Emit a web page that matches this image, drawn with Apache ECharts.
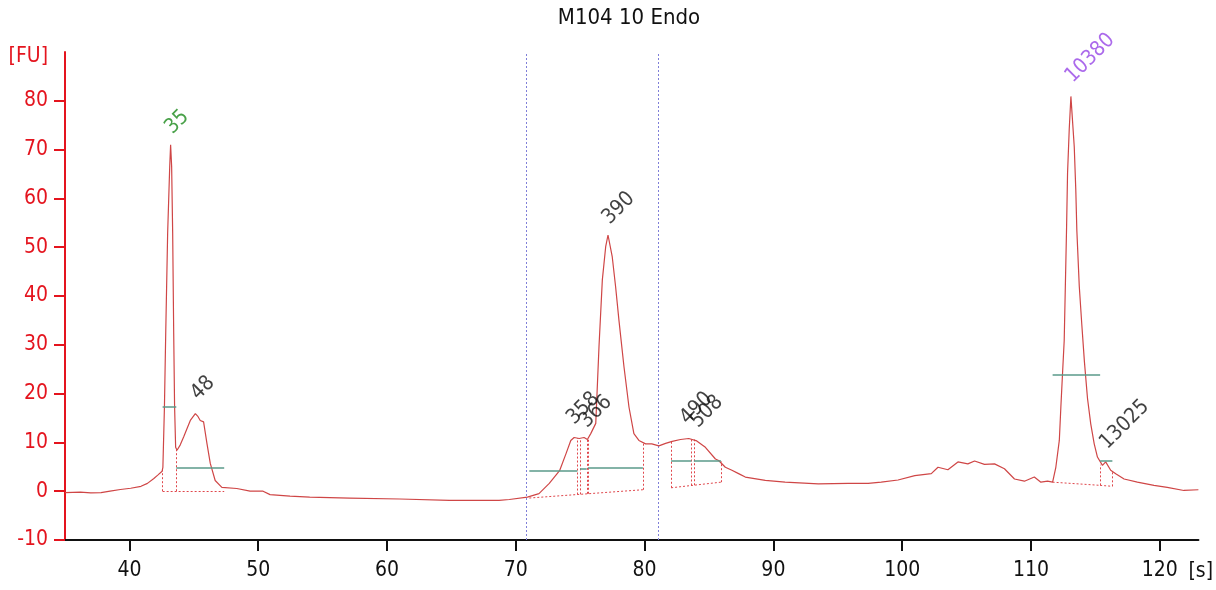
<!DOCTYPE html>
<html>
<head>
<meta charset="utf-8">
<script src="https://cdn.jsdelivr.net/npm/echarts@6/dist/echarts.min.js"></script>
<style>html,body{margin:0;padding:0;background:#fff}#c{width:1216px;height:590px}</style>
</head>
<body>
<div id="c"></div>
<script>
// ---- data ----
var title = 'M104 10 Endo';
var xTicks = [40, 50, 60, 70, 80, 90, 100, 110, 120];
var yTicks = [-10, 0, 10, 20, 30, 40, 50, 60, 70, 80];
// electropherogram trace [time s, FU]
var trace = [[35.0,-0.3],[36.2,-0.2],[37.0,-0.35],[37.8,-0.3],[38.5,0.0],[39.3,0.35],[40.1,0.6],[40.9,1.0],[41.4,1.6],[41.9,2.6],[42.2,3.3],[42.54,4.1],[42.6,4.9],[42.72,17.2],[42.82,32.3],[42.97,52.9],[43.13,66.5],[43.2,71.0],[43.28,66.5],[43.36,52.9],[43.44,32.3],[43.51,17.2],[43.59,9.0],[43.7,8.4],[43.95,9.5],[44.21,11.1],[44.5,13.0],[44.73,14.5],[45.12,15.9],[45.3,15.4],[45.5,14.5],[45.76,14.2],[46.02,9.8],[46.28,5.7],[46.66,2.2],[47.18,0.8],[48.34,0.55],[49.37,0.0],[50.38,0.0],[50.92,-0.7],[52.47,-1.0],[54.0,-1.2],[57.1,-1.4],[61.0,-1.6],[64.85,-1.9],[68.7,-1.9],[69.5,-1.7],[70.9,-1.2],[71.8,-0.5],[72.6,1.6],[73.4,4.2],[73.9,7.7],[74.27,10.4],[74.53,11.0],[74.92,10.8],[75.3,11.0],[75.56,10.6],[75.82,11.8],[76.21,13.9],[76.46,29.6],[76.72,43.3],[76.98,50.1],[77.16,52.5],[77.49,48.0],[77.75,41.9],[78.01,35.0],[78.4,25.5],[78.79,17.2],[79.17,11.8],[79.56,10.4],[80.08,9.7],[80.56,9.7],[81.11,9.3],[81.63,9.8],[82.14,10.2],[82.79,10.6],[83.43,10.8],[84.05,10.3],[84.72,9.0],[85.5,6.6],[85.75,6.3],[86.27,4.9],[86.78,4.3],[87.3,3.6],[87.82,2.9],[89.37,2.2],[90.91,1.85],[93.49,1.5],[95.81,1.6],[97.36,1.6],[98.37,1.85],[99.68,2.3],[100.98,3.2],[102.26,3.6],[102.78,4.9],[103.55,4.4],[104.33,6.0],[105.1,5.6],[105.62,6.2],[106.39,5.5],[107.17,5.6],[107.94,4.6],[108.72,2.5],[109.49,2.05],[110.26,2.9],[110.77,1.85],[111.29,2.05],[111.68,1.85],[111.93,4.9],[112.2,10.4],[112.32,17.2],[112.45,24.1],[112.58,30.9],[112.76,53.5],[112.84,65.2],[112.97,74.1],[113.1,80.9],[113.36,70.6],[113.48,61.7],[113.56,53.5],[113.75,42.0],[113.95,34.0],[114.15,26.5],[114.39,19.0],[114.64,13.8],[114.91,9.7],[115.16,7.0],[115.55,5.3],[115.8,6.0],[116.19,4.3],[116.58,3.6],[117.23,2.5],[118.26,1.85],[119.55,1.2],[120.58,0.8],[121.87,0.15],[123.0,0.3]];
// peak labels
var peakNames = ['35', '48', '358', '366', '390', '490', '508', '10380', '13025'];
var peakX = [43.2, 45.2, 74.4, 75.38, 77.16, 83.2, 84.0, 113.1, 115.78];
var peakY = [71.0, 16.5, 11.5, 10.8, 52.5, 11.5, 10.8, 81.5, 6.4];
var peakKind = ['lower', 'peak', 'peak', 'peak', 'peak', 'peak', 'peak', 'upper', 'peak'];
// peak-height bars (green): x1, x2, y
var barX1 = [42.58, 43.64, 71.05, 74.99, 75.61, 82.06, 83.82, 111.68, 115.37];
var barX2 = [43.64, 47.36, 74.78, 75.51, 79.87, 83.64, 85.93, 115.37, 116.32];
var barY  = [17.4, 4.9, 4.1, 4.6, 4.9, 6.2, 6.2, 23.9, 6.2];
// integration baselines (red dotted): [x1, y1, x2, y2]
var baseSegs = [[42.58,0,47.36,0],[71.05,-1.4,79.87,0.3],[82.06,0.7,85.93,1.85],[111.68,1.85,115.37,1.2],[115.37,1.2,116.32,1.0]];
// region boundaries (red dotted verticals): x, yBottom, yTop
var boundX = [42.58, 43.64, 74.78, 74.99, 75.51, 75.61, 79.87, 82.06, 83.64, 83.82, 85.93, 115.37, 116.32];
var boundLo = [0, 0, -0.68, -0.64, -0.54, -0.52, 0.3, 0.7, 1.17, 1.22, 1.85, 1.2, 1.0];
var boundHi = [4.4, 8.5, 10.9, 10.85, 10.7, 10.8, 10.0, 10.2, 10.8, 10.6, 6.1, 5.4, 4.1];
// region markers (blue dotted)
var regionX = [70.85, 81.05];

var FONT = "'DejaVu Sans Condensed', 'Liberation Sans', sans-serif";
var RED = '#e4141e';
var kindColor = {lower: '#1b8a1b', upper: '#9645e6', peak: '#111111'};

var labelData = peakNames.map(function (n, i) {
  return {name: n, value: [peakX[i], peakY[i]], label: {color: kindColor[peakKind[i]]}};
});
var barData = barX1.map(function (x, i) { return {coords: [[x, barY[i]], [barX2[i], barY[i]]]}; });
var baseData = baseSegs.map(function (s) { return {coords: [[s[0], s[1]], [s[2], s[3]]]}; });
var boundData = boundX.map(function (x, i) { return {coords: [[x, boundLo[i]], [x, boundHi[i]]]}; });
var regionData = regionX.map(function (x) { return {coords: [[x, -10], [x, 90]]}; });

var chart = echarts.init(document.getElementById('c'), null, {renderer: 'canvas'});
chart.setOption({
  animation: false,
  backgroundColor: '#ffffff',
  title: {text: title, left: 624, textAlign: 'center', top: 2,
    textStyle: {fontFamily: FONT, fontSize: 22, fontWeight: 'normal', color: '#111'}},
  grid: {left: 65, right: 14, top: 52, bottom: 50, containLabel: false},
  xAxis: {
    type: 'value', min: 35, max: 123,
    name: '[s]', nameLocation: 'end', nameGap: -10,
    nameTextStyle: {fontFamily: FONT, fontSize: 21, color: '#111', align: 'left', verticalAlign: 'top', padding: [21, 0, 0, 0]},
    axisLine: {show: true, onZero: false, lineStyle: {color: '#111', width: 2}},
    axisTick: {show: true, length: 11, customValues: xTicks, lineStyle: {color: '#111', width: 2}},
    axisLabel: {customValues: xTicks, fontFamily: FONT, fontSize: 21, color: '#111', margin: 20},
    splitLine: {show: false}
  },
  yAxis: {
    type: 'value', min: -10, max: 90,
    name: '[FU]', nameLocation: 'end', nameGap: -5,
    nameTextStyle: {fontFamily: FONT, fontSize: 21, color: RED, align: 'right', verticalAlign: 'middle', padding: [0, 17, 0, 0]},
    axisLine: {show: true, onZero: false, lineStyle: {color: RED, width: 2}},
    axisTick: {show: true, length: 11, customValues: yTicks, lineStyle: {color: RED, width: 2}},
    axisLabel: {customValues: yTicks, fontFamily: FONT, fontSize: 21, color: RED, margin: 17},
    splitLine: {show: false}
  },
  series: [
    {type: 'lines', coordinateSystem: 'cartesian2d', silent: true, data: regionData,
      lineStyle: {color: '#7f7fd8', width: 1, type: [2, 2], opacity: 1}},
    {type: 'lines', coordinateSystem: 'cartesian2d', silent: true, data: baseData,
      lineStyle: {color: '#e0474c', width: 1, type: [2, 2], opacity: 1}},
    {type: 'lines', coordinateSystem: 'cartesian2d', silent: true, data: boundData,
      lineStyle: {color: '#e0474c', width: 1, type: [2, 2], opacity: 1}},
    {type: 'line', data: trace, showSymbol: false, symbol: 'none', silent: true,
      lineStyle: {color: '#cf4646', width: 1.2}, z: 3},
    {type: 'lines', coordinateSystem: 'cartesian2d', silent: true, data: barData, z: 4,
      lineStyle: {color: '#5a9a8a', width: 1.5, opacity: 1}},
    {type: 'scatter', data: labelData, symbolSize: 0.1, itemStyle: {color: 'transparent'}, silent: true, z: 5,
      label: {show: true, formatter: '{b}', position: [-2, -14], rotate: 45, align: 'left', verticalAlign: 'middle',
        fontFamily: FONT, fontSize: 21}}
  ]
});
</script>
</body>
</html>
